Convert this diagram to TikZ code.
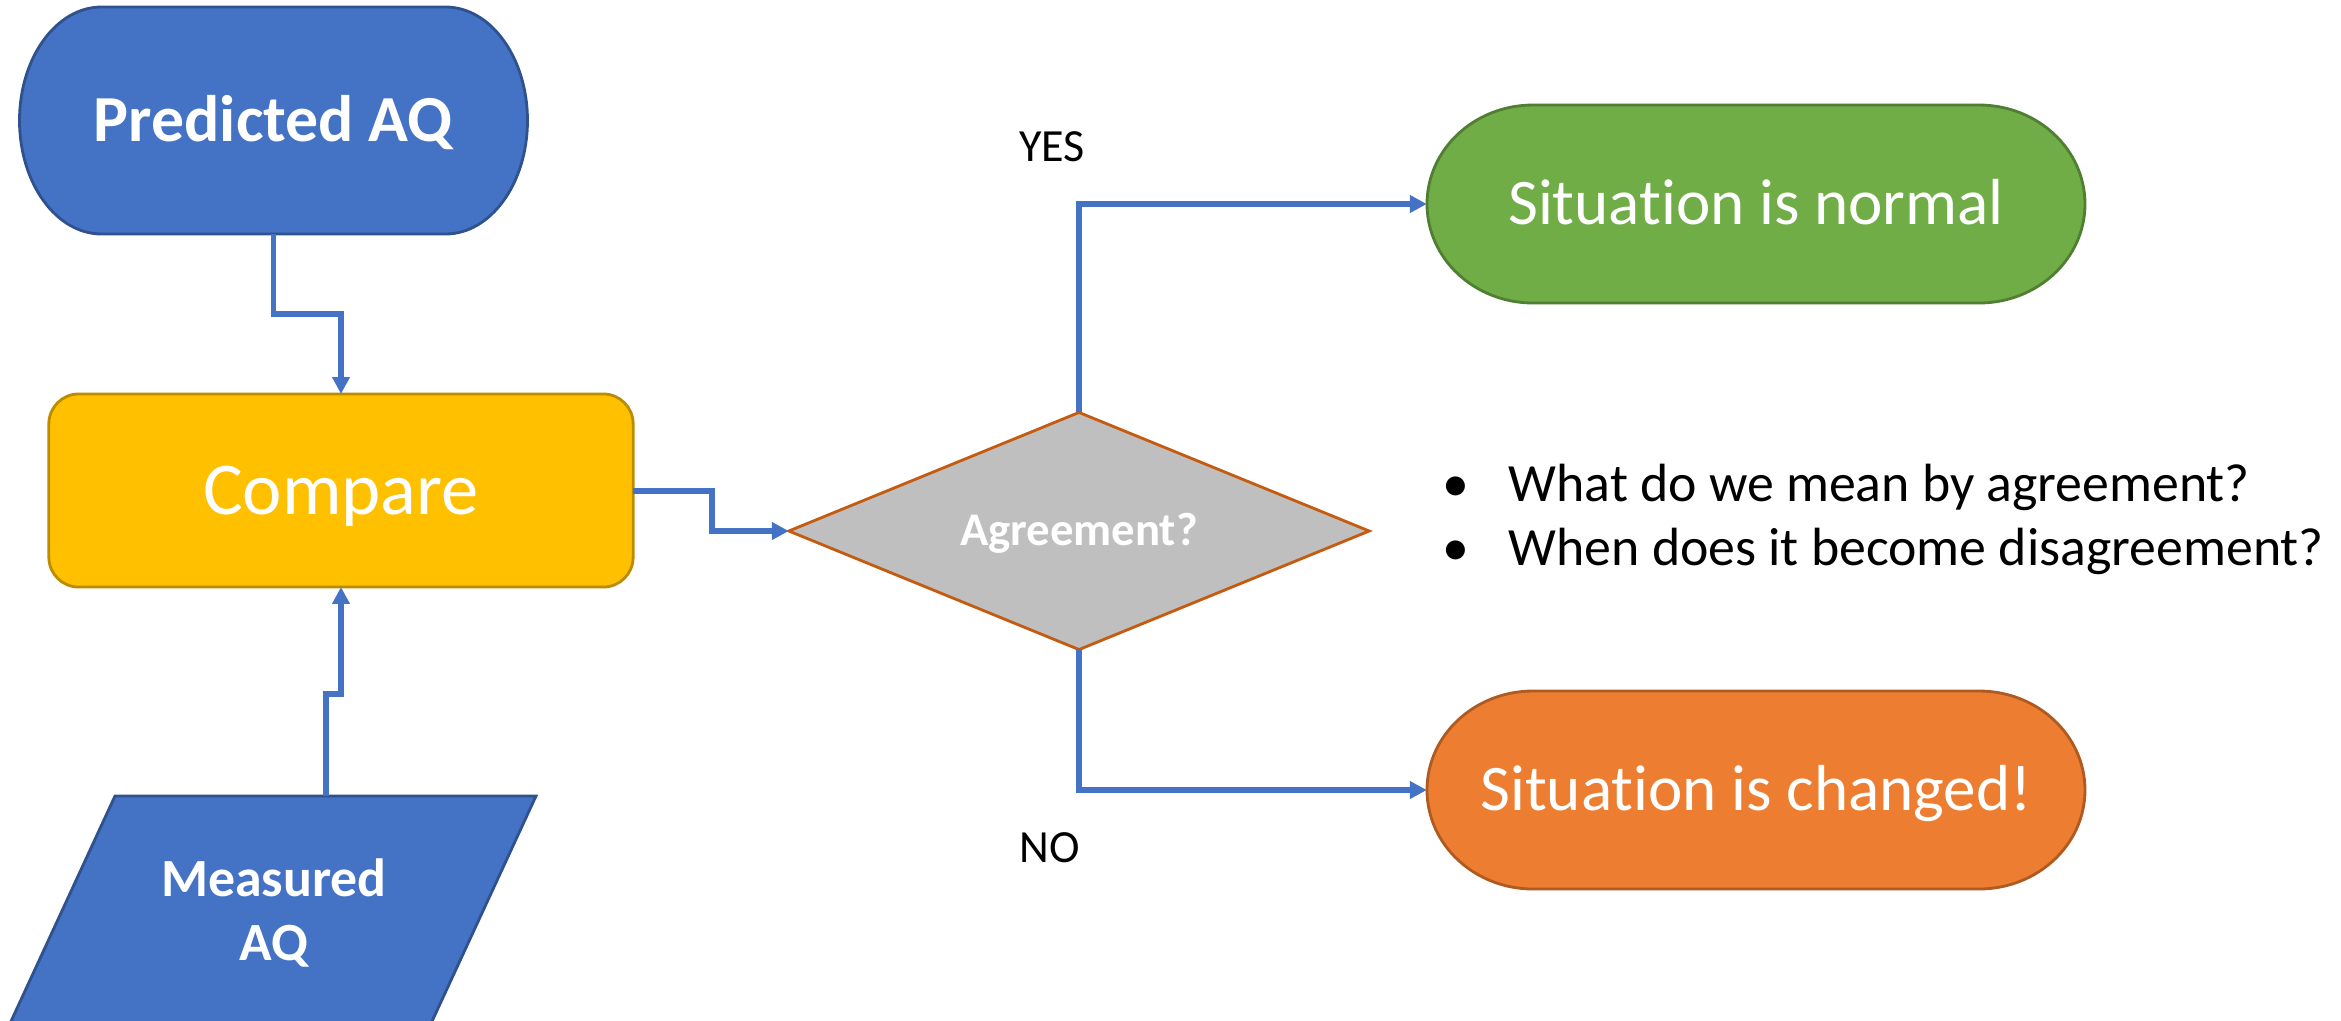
\documentclass[tikz,border=0pt]{standalone}
\usepackage{fontspec}
\setmainfont{Carlito}[Ligatures=NoCommon]
\usetikzlibrary{shapes.geometric,arrows.meta}

\definecolor{bluefill}{HTML}{4472C4}
\definecolor{blueline}{HTML}{2F528F}
\definecolor{goldfill}{HTML}{FFC000}
\definecolor{goldline}{HTML}{BC8C00}
\definecolor{grayfill}{HTML}{BFBFBF}
\definecolor{rustline}{HTML}{C55A11}
\definecolor{greenfill}{HTML}{70AD47}
\definecolor{greenline}{HTML}{507E32}
\definecolor{orangefill}{HTML}{ED7D31}
\definecolor{orangeline}{HTML}{AE5A21}

\begin{document}
\begin{tikzpicture}[x=0.01cm, y=-0.01cm]

      %styles of the chart
      \tikzset{
      flow/.style={draw=bluefill, line width=1.7pt, -{Triangle[length=4.8pt,width=4.8pt]}},
      shapeline/.style={line width=0.8pt},
      boxtext/.style={text=white, inner sep=0pt, outer sep=0pt},
      yesno/.style={inner sep=0pt, text height=0.29cm, text depth=0pt, font=\fontsize{13.1pt}{16pt}\selectfont},
      note/.style={inner sep=0pt, anchor=base west, font=\fontsize{15.3pt}{18.2pt}\selectfont},
      }

      \useasboundingbox (0,0) rectangle (2341,1020);
      \clip (0,0) rectangle (2341,1020);

      %terminal#1
      \filldraw[fill=bluefill, draw=blueline, shapeline] (101.5,7) -- (445.5,7)
        arc[start angle=-90, end angle=90, x radius=82, y radius=113.5] -- (101.5,234)
        arc[start angle=90, end angle=270, x radius=82, y radius=113.5] -- cycle;
      \node[boxtext, minimum width=5.09cm, minimum height=2.27cm, text height=0.415cm, text depth=0pt,
        font=\fontsize{18.7pt}{22pt}\selectfont\bfseries] (pred) at (273.5,120.5) {Predicted AQ};

      %process
      \node[boxtext, draw=goldline, fill=goldfill, shapeline, rounded corners=8.5pt,
        minimum width=5.84cm, minimum height=1.93cm, text height=0.47cm, text depth=0pt,
        font=\fontsize{21.2pt}{25pt}\selectfont] (cmp) at (341,490.5) {Compare};

      %input
      \filldraw[fill=bluefill, draw=blueline, shapeline] (115,796) -- (536,796) -- (428,1030) -- (7,1030) -- cycle;
      \coordinate (meastop) at (326,796);
      \node[boxtext, align=center, font=\fontsize{15.3pt}{18.2pt}\selectfont\bfseries] (meas) at (274,913) {Measured\\AQ};

      %decision
      \node[boxtext, diamond, aspect=2.45, draw=rustline, fill=grayfill, shapeline,
        minimum width=5.8cm, minimum height=2.37cm, text height=0.295cm, text depth=0pt,
        font=\fontsize{13.3pt}{16pt}\selectfont\bfseries] (dec) at (1079,531) {Agreement?};

      %terminal#2
      \filldraw[fill=greenfill, draw=greenline, shapeline] (1533,105) -- (1979,105)
        arc[start angle=-90, end angle=90, x radius=106, y radius=99] -- (1533,303)
        arc[start angle=90, end angle=270, x radius=106, y radius=99] -- cycle;
      \node[boxtext, minimum width=6.58cm, minimum height=1.98cm, text height=0.41cm, text depth=0pt,
        font=\fontsize{18.5pt}{22pt}\selectfont] (norm) at (1756,204) {Situation is normal};

      %terminal#3
      \filldraw[fill=orangefill, draw=orangeline, shapeline] (1533,691) -- (1979,691)
        arc[start angle=-90, end angle=90, x radius=106, y radius=99] -- (1533,889)
        arc[start angle=90, end angle=270, x radius=106, y radius=99] -- cycle;
      \node[boxtext, minimum width=6.58cm, minimum height=1.98cm, text height=0.41cm, text depth=0pt,
        font=\fontsize{18.5pt}{22pt}\selectfont] (chg) at (1756,790) {Situation is changed!};

      %connectors
      \draw[flow] (pred.south) -- ++(0,80) -| (cmp.north);
      \draw[flow] (meastop) -- ++(0,-102) -| (cmp.south);
      \draw[flow] (cmp.east) -- ++(79,0) |- (dec.west);
      \draw[flow] (dec.north) |- (norm.west);
      \draw[flow] (dec.south) |- (chg.west);

      %answers
      \node[yesno] (yes) at (1052,147) {YES};
      \node[yesno] (no) at (1050,848) {NO};

      %questions
      \node[note] (q1) at (1442,501) {\makebox[0.66cm][l]{•}What do we mean by agreement?};
      \node[note] (q2) at (1442,565) {\makebox[0.66cm][l]{•}When does it become disagreement?};
    \end{tikzpicture}
\end{document}
